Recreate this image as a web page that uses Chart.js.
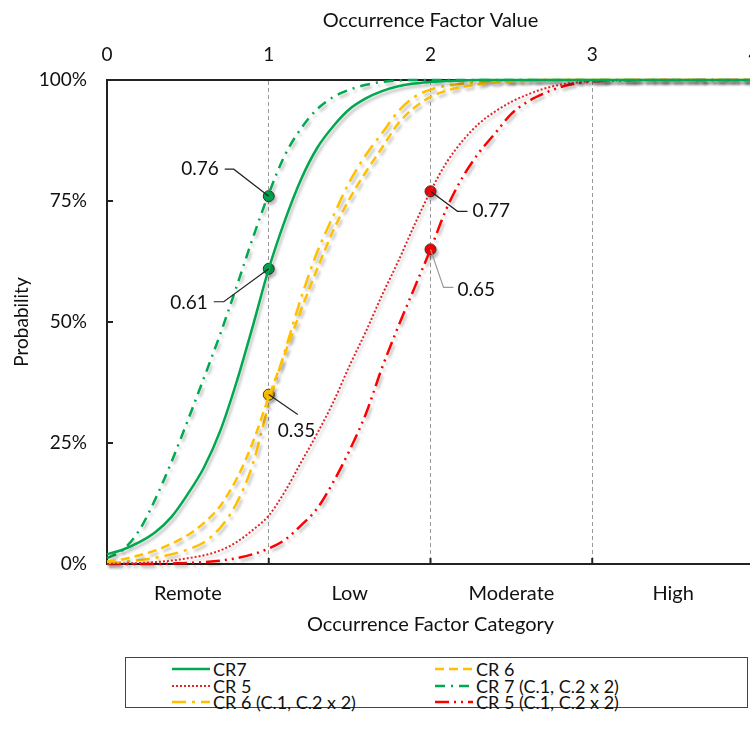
<!DOCTYPE html>
<html>
<head>
<meta charset="utf-8">
<script src="https://cdn.jsdelivr.net/npm/chart.js@4.4.1/dist/chart.umd.min.js"></script>
<style>
    body { margin: 0; background: #fff; overflow: hidden; font-family: Lato, sans-serif; }
    #wrap { position: relative; width: 770px; height: 645px; }
    #legend {
        position: absolute; left: 125px; top: 657px; width: 623px; height: 51px;
        box-sizing: border-box; border: 1px solid #444; padding: 3px 0 0 46px;
        display: grid; grid-template-columns: 263px 263px; grid-template-rows: 16.5px 16.5px 16.5px;
        font-size: 18px; line-height: 16px; color: #111;
    }
    #legend .item { display: flex; align-items: center; white-space: nowrap; height: 16.5px; }
    #legend svg { margin-right: 3px; }
</style>
</head>
<body>
<div id="wrap">
    <canvas id="chart" width="770" height="645"></canvas>
</div>
<div id="legend"></div>
<script>
// x positions shared by all curves (occurrence factor value)
const xs = [0, 0.1, 0.2, 0.3, 0.4, 0.5, 0.6, 0.7, 0.8, 0.9, 1.0, 1.1, 1.2, 1.3, 1.4, 1.5, 1.6, 1.7, 1.8, 1.9, 2.0,
            2.1, 2.2, 2.3, 2.4, 2.5, 2.6, 2.7, 2.8, 2.9, 3.0, 3.5, 4.0];

const cr7  = [0.02, 0.03, 0.045, 0.066, 0.098, 0.145, 0.20, 0.275, 0.375, 0.49, 0.61, 0.71, 0.795, 0.86, 0.905, 0.94, 0.962, 0.977, 0.987, 0.993, 0.996,
              0.998, 0.999, 1, 1, 1, 1, 1, 1, 1, 1, 1, 1];
const cr6  = [0.005, 0.01, 0.018, 0.028, 0.042, 0.06, 0.085, 0.12, 0.175, 0.25, 0.345, 0.435, 0.525, 0.61, 0.69, 0.755, 0.81, 0.86, 0.91, 0.943, 0.965,
              0.978, 0.986, 0.991, 0.995, 0.997, 0.998, 0.999, 1, 1, 1, 1, 1];
const cr5  = [0, 0.001, 0.002, 0.004, 0.007, 0.012, 0.018, 0.028, 0.045, 0.07, 0.10, 0.15, 0.21, 0.27, 0.335, 0.41, 0.48, 0.555, 0.625, 0.70, 0.77,
              0.83, 0.875, 0.91, 0.935, 0.955, 0.97, 0.982, 0.99, 0.995, 0.998, 1, 1];
const cr7b = [0.012, 0.03, 0.07, 0.135, 0.212, 0.297, 0.385, 0.475, 0.572, 0.672, 0.765, 0.845, 0.90, 0.94, 0.965, 0.98, 0.99, 0.996, 0.999, 1, 1,
              1, 1, 1, 1, 1, 1, 1, 1, 1, 1, 1, 1];
const cr6b = [0.002, 0.004, 0.008, 0.013, 0.02, 0.03, 0.045, 0.075, 0.125, 0.205, 0.33, 0.44, 0.55, 0.645, 0.72, 0.79, 0.845, 0.89, 0.935, 0.965, 0.98,
              0.988, 0.993, 0.996, 0.998, 0.999, 1, 1, 1, 1, 1, 1, 1];
const cr5b = [0, 0, 0, 0, 0.001, 0.002, 0.004, 0.007, 0.012, 0.02, 0.032, 0.05, 0.08, 0.115, 0.17, 0.235, 0.31, 0.405, 0.49, 0.57, 0.65,
              0.735, 0.80, 0.85, 0.89, 0.93, 0.955, 0.972, 0.985, 0.993, 0.997, 1, 1];

// highlighted points
const markerX = [1, 1, 1, 2, 2];
const markerY = [0.76, 0.61, 0.35, 0.77, 0.65];
const markerLabels = ['0.76', '0.61', '0.35', '0.77', '0.65'];

const categories = ['Remote', 'Low', 'Moderate', 'High'];
const categoryPos = [0.5, 1.5, 2.5, 3.5];
const valueTicks = [0, 1, 2, 3, 4];
const yTicks = [0, 0.25, 0.5, 0.75, 1];
const yTickLabels = ['0%', '25%', '50%', '75%', '100%'];

const GREEN = '#00a84f', YELLOW = '#ffc000', RED = '#ff0000', DOTRED = '#e0262b';
const FONT = 'Lato, sans-serif';
const TXT = '#111';

const toPts = arr => xs.map((x, i) => ({ x: x, y: arr[i] }));

const series = [
    { label: 'CR7', data: cr7, color: GREEN, dash: [], width: 2.5 },
    { label: 'CR 6', data: cr6, color: YELLOW, dash: [9, 5], width: 2.5 },
    { label: 'CR 5', data: cr5, color: DOTRED, dash: [2, 2], width: 2 },
    { label: 'CR 7 (C.1, C.2 x 2)', data: cr7b, color: GREEN, dash: [10, 6, 2, 6], width: 2.5 },
    { label: 'CR 6 (C.1, C.2 x 2)', data: cr6b, color: YELLOW, dash: [14, 6, 3, 6], width: 2.5 },
    { label: 'CR 5 (C.1, C.2 x 2)', data: cr5b, color: RED, dash: [14, 5, 2, 5, 2, 5], width: 2.5 }
];

// callout offsets relative to each marker: bend point, end point, text anchor
const callouts = [
    { bend: [-35, -27], end: [-44, -27], text: [-50, -27], align: 'right', color: '#222' },
    { bend: [-45, 33], end: [-55, 33], text: [-61, 34], align: 'right', color: '#222' },
    { bend: [29, 20], end: [29, 20], text: [9, 36], align: 'left', color: '#222' },
    { bend: [27, 20], end: [37, 20], text: [42, 20], align: 'left', color: '#222' },
    { bend: [13, 38], end: [23, 38], text: [27, 40], align: 'left', color: '#9a9a9a' }
];

const shadowPlugin = {
    id: 'shadow',
    beforeDatasetsDraw(chart) {
        const c = chart.ctx;
        c.save();
        c.shadowColor = 'rgba(0,0,0,0.25)';
        c.shadowBlur = 3;
        c.shadowOffsetX = 2;
        c.shadowOffsetY = 3;
    },
    afterDatasetsDraw(chart) {
        chart.ctx.restore();
    }
};

const extrasPlugin = {
    id: 'extras',
    afterDraw(chart) {
        const c = chart.ctx, xS = chart.scales.x, yS = chart.scales.y, a = chart.chartArea;
        c.save();
        // inward tick marks
        c.strokeStyle = '#222';
        c.lineWidth = 2;
        [0.25, 0.5, 0.75].forEach(v => {
            const py = yS.getPixelForValue(v);
            c.beginPath(); c.moveTo(a.left, py); c.lineTo(a.left + 6, py); c.stroke();
        });
        [1, 2, 3].forEach(v => {
            const px = xS.getPixelForValue(v);
            c.beginPath(); c.moveTo(px, a.bottom); c.lineTo(px, a.bottom - 6); c.stroke();
        });
        // callouts
        c.font = '19px ' + FONT;
        c.textBaseline = 'middle';
        markerX.forEach((mx, i) => {
            const px = xS.getPixelForValue(mx), py = yS.getPixelForValue(markerY[i]);
            const co = callouts[i];
            c.strokeStyle = co.color;
            c.lineWidth = 1.2;
            c.beginPath();
            c.moveTo(px, py);
            c.lineTo(px + co.bend[0], py + co.bend[1]);
            c.lineTo(px + co.end[0], py + co.end[1]);
            c.stroke();
            c.fillStyle = TXT;
            c.textAlign = co.align;
            c.fillText(markerLabels[i], px + co.text[0], py + co.text[1]);
        });
        c.restore();
    }
};

const datasets = series.map(s => ({
    label: s.label,
    data: toPts(s.data),
    borderColor: s.color,
    backgroundColor: s.color,
    borderWidth: s.width,
    borderDash: s.dash,
    pointRadius: 0,
    fill: false,
    cubicInterpolationMode: 'monotone',
    clip: false
}));

datasets.push({
    label: 'markers',
    type: 'scatter',
    data: markerX.map((x, i) => ({ x: x, y: markerY[i] })),
    pointRadius: 5.5,
    pointBackgroundColor: [GREEN, GREEN, YELLOW, RED, RED],
    pointBorderColor: '#333',
    pointBorderWidth: 1,
    showLine: false,
    clip: false
});

new Chart(document.getElementById('chart'), {
    type: 'line',
    data: { datasets: datasets },
    options: {
        responsive: false,
        animation: false,
        devicePixelRatio: 1,
        layout: { padding: { left: 0, right: 16, top: 0, bottom: 0 } },
        plugins: { legend: { display: false }, tooltip: { enabled: false } },
        scales: {
            x: {
                type: 'linear', position: 'bottom', min: 0, max: 4,
                afterBuildTicks: s => { s.ticks = categoryPos.map(v => ({ value: v })); },
                afterFit: s => { s.height = 81; s.paddingLeft = 0; s.paddingRight = 0; },
                ticks: {
                    callback: (v, i) => categories[i],
                    font: { family: FONT, size: 20 }, color: TXT, padding: 10, maxRotation: 0
                },
                grid: { display: false },
                border: { display: true, color: '#222', width: 2 },
                title: { display: true, text: 'Occurrence Factor Category', font: { family: FONT, size: 20 }, color: TXT, padding: { top: 0, bottom: 8 } }
            },
            xTop: {
                type: 'linear', position: 'top', min: 0, max: 4,
                afterBuildTicks: s => { s.ticks = valueTicks.map(v => ({ value: v })); },
                afterFit: s => { s.height = 80; s.paddingLeft = 0; s.paddingRight = 0; },
                ticks: { font: { family: FONT, size: 19 }, color: TXT, padding: 14 },
                grid: {
                    drawTicks: false,
                    lineWidth: 1,
                    color: ctx => (ctx.tick && ctx.tick.value > 0 && ctx.tick.value < 4) ? '#9a9a9a' : 'rgba(0,0,0,0)'
                },
                border: { display: true, color: '#222', width: 2, dash: [4, 3] },
                title: { display: true, text: 'Occurrence Factor Value', font: { family: FONT, size: 20 }, color: TXT, padding: { top: 9, bottom: 0 } }
            },
            y: {
                min: 0, max: 1,
                afterBuildTicks: s => { s.ticks = yTicks.map(v => ({ value: v })); },
                afterFit: s => { s.width = 107; },
                ticks: {
                    callback: (v, i) => yTickLabels[i],
                    font: { family: FONT, size: 19 }, color: TXT, padding: 12
                },
                grid: { display: false },
                border: { display: true, color: '#222', width: 2 },
                title: { display: true, text: 'Probability', font: { family: FONT, size: 19 }, color: TXT, padding: { top: 10, bottom: 0 } }
            }
        }
    },
    plugins: [shadowPlugin, extrasPlugin]
});

// legend, built from the series list
const legend = document.getElementById('legend');
series.forEach(s => {
    const item = document.createElement('div');
    item.className = 'item';
    item.innerHTML = '<svg width="38" height="10"><line x1="0" y1="5" x2="38" y2="5" stroke="' + s.color +
        '" stroke-width="' + s.width + '" stroke-dasharray="' + (s.dash.length ? s.dash.join(' ') : 'none') + '"/></svg>' +
        '<span>' + s.label + '</span>';
    legend.appendChild(item);
});
</script>
</body>
</html>
